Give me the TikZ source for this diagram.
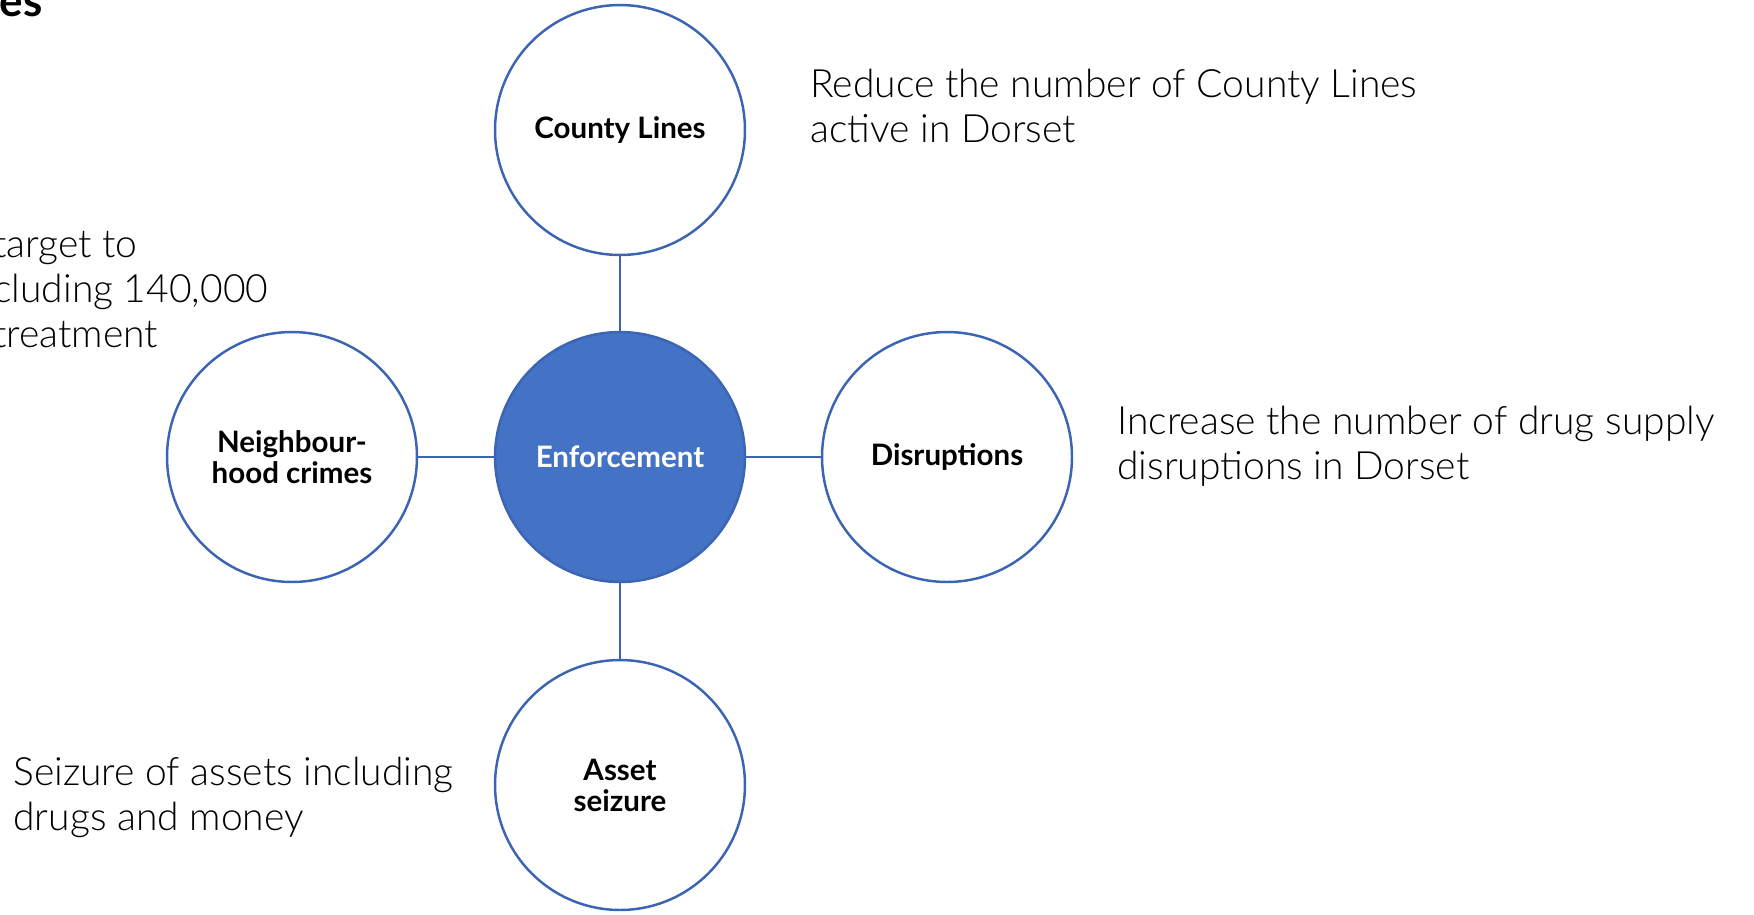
\documentclass[tikz,border=0pt]{standalone}
\usepackage{fontspec}
\setmainfont{Lato}
\newfontfamily\lightfont{Lato Light}
\definecolor{enfblue}{HTML}{4472C4}
\definecolor{ringblue}{HTML}{3C64B4}
\newcommand{\labelfont}{\bfseries\fontsize{16.8}{17.6}\selectfont}
\newcommand{\descfont}{\lightfont\fontsize{22.2}{25.6}\selectfont}
\begin{document}
\begin{tikzpicture}[x=0.02cm, y=-0.02cm,
  goal/.style={draw=ringblue, line width=1.4pt, circle, minimum size=5cm, inner sep=0pt, fill=white, font=\labelfont, align=center},
  link/.style={draw=ringblue, line width=1.4pt},
  desc/.style={font=\descfont, align=left, anchor=west, inner sep=0pt}]
\useasboundingbox (0,0) rectangle (1754,914);
\clip (0,0) rectangle (1754,914);

% Title, cut at the top edge
\node[font=\bfseries\fontsize{25}{28}\selectfont, anchor=base east, inner sep=0pt] (title) at (43,16) {es};

% Hub and its four goals
\node[goal, fill=enfblue, text=white] (enf) at (620,457) {Enforcement};
\node[goal] (county) at (620,130) {County Lines};
\node[goal] (neigh) at (292,457) {Neighbour-\\hood crimes};
\node[goal] (disr) at (947,457) {Disruptions};
\node[goal] (asset) at (620,785) {Asset\\seizure};

% Connections
\draw[link] (county) -- (enf);
\draw[link] (neigh) -- (enf);
\draw[link] (enf) -- (disr);
\draw[link] (enf) -- (asset);

% Descriptions
\node[desc] (countytxt) at (810,106) {Reduce the number of County Lines\\active in Dorset};
\node[desc] (neightxt) at (-7,290) {target to\\cluding 140,000\\treatment};
\node[desc] (disrtxt) at (1117,446) {Increase the number of drug supply\\disruptions in Dorset};
\node[desc] (assettxt) at (13,797) {Seizure of assets including\\drugs and money};
\end{tikzpicture}
\end{document}
